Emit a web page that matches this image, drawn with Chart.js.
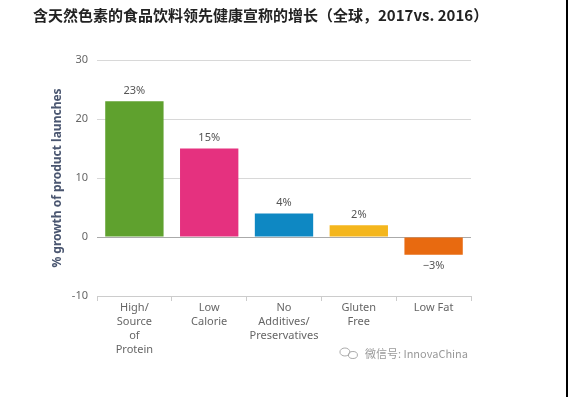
<!DOCTYPE html>
<html>
<head>
<meta charset="utf-8">
<script src="https://cdn.jsdelivr.net/npm/chart.js@4.4.6/dist/chart.umd.js"></script>
<style>
  html, body { margin: 0; padding: 0; background: #fff; }
  .wrap { position: relative; width: 566px; height: 397px; border-right: 2px solid #000; }
</style>
</head>
<body>
<div class="wrap"><canvas id="claims"></canvas></div>
<script>
const titleText = '含天然色素的食品饮料领先健康宣称的增长（全球，2017vs. 2016）';
const categories = [
  ['High/', 'Source', 'of', 'Protein'],
  ['Low', 'Calorie'],
  ['No', 'Additives/', 'Preservatives'],
  ['Gluten', 'Free'],
  ['Low Fat']
];
const growth = [23, 15, 4, 2, -3];
const barColors = ['#5fa12e', '#e5317f', '#0e88c3', '#f4b61d', '#e86a10'];
const yTicks = [-10, 0, 10, 20, 30];
const watermark = '微信号: InnovaChina';

const font = '"Noto Sans", "DejaVu Sans", sans-serif';

const decor = {
  id: 'decor',
  afterDatasetsDraw(chart) {
    const { ctx } = chart;
    const meta = chart.getDatasetMeta(0);
    ctx.save();
    ctx.font = `11px ${font}`;
    ctx.fillStyle = '#555';
    ctx.textAlign = 'center';
    meta.data.forEach((bar, i) => {
      const v = growth[i];
      const label = (v < 0 ? '\u2212' + Math.abs(v) : v) + '%';
      if (v >= 0) {
        ctx.textBaseline = 'bottom';
        ctx.fillText(label, bar.x, bar.y - 5);
      } else {
        ctx.textBaseline = 'top';
        ctx.fillText(label, bar.x, bar.y + 6);
      }
    });
    ctx.restore();
  },
  afterDraw(chart) {
    const { ctx, chartArea } = chart;
    ctx.save();
    // title
    ctx.font = `bold 15px "Noto Sans CJK SC", sans-serif`;
    ctx.fillStyle = '#222';
    ctx.textAlign = 'left';
    ctx.textBaseline = 'middle';
    ctx.fillText(titleText, 33, 15);
    // watermark
    const wx = chartArea.right - 3;
    const wy = 354;
    ctx.font = `11px "Noto Sans CJK SC", sans-serif`;
    ctx.fillStyle = '#999';
    ctx.textAlign = 'right';
    ctx.fillText(watermark, wx, wy);
    const tw = ctx.measureText(watermark).width;
    ctx.strokeStyle = '#aaa';
    ctx.lineWidth = 1;
    ctx.beginPath();
    ctx.ellipse(wx - tw - 20, wy - 2, 5, 4, 0, 0, Math.PI * 2);
    ctx.stroke();
    ctx.beginPath();
    ctx.ellipse(wx - tw - 12, wy + 1, 4.5, 3.5, 0, 0, Math.PI * 2);
    ctx.stroke();
    ctx.restore();
  }
};

new Chart(document.getElementById('claims'), {
  type: 'bar',
  data: {
    labels: categories,
    datasets: [{
      data: growth,
      backgroundColor: barColors,
      borderWidth: 0,
      barPercentage: 0.78,
      categoryPercentage: 1
    }]
  },
  options: {
    responsive: true,
    maintainAspectRatio: false,
    animation: false,
    layout: { padding: { top: 60, right: 95, bottom: 0, left: 0 } },
    plugins: {
      legend: { display: false },
      tooltip: { enabled: false }
    },
    scales: {
      x: {
        afterFit: (scale) => { scale.height = 101; },
        grid: {
          offset: true,
          drawOnChartArea: false,
          drawTicks: true,
          tickLength: 5,
          color: '#ccc'
        },
        border: { display: true, color: '#ccc' },
        ticks: {
          color: '#666',
          padding: 0,
          font: { family: font, size: 11, lineHeight: 1.27 },
          maxRotation: 0,
          autoSkip: false
        }
      },
      y: {
        min: -10,
        max: 30,
        afterFit: (scale) => { scale.width = 97; },
        afterBuildTicks: (scale) => { scale.ticks = yTicks.map((v) => ({ value: v })); },
        border: { display: false },
        grid: {
          drawTicks: false,
          color: (c) => (c.tick && c.tick.value === 0 ? '#aaa' : '#d8d8d8')
        },
        ticks: {
          color: '#666',
          padding: 9,
          font: { family: font, size: 11 }
        },
        title: {
          display: true,
          text: '% growth of product launches',
          color: '#4a5670',
          font: { family: font, size: 12, weight: 'bold' },
          padding: { top: 50, bottom: 0 }
        }
      }
    }
  },
  plugins: [decor]
});
</script>
</body>
</html>
